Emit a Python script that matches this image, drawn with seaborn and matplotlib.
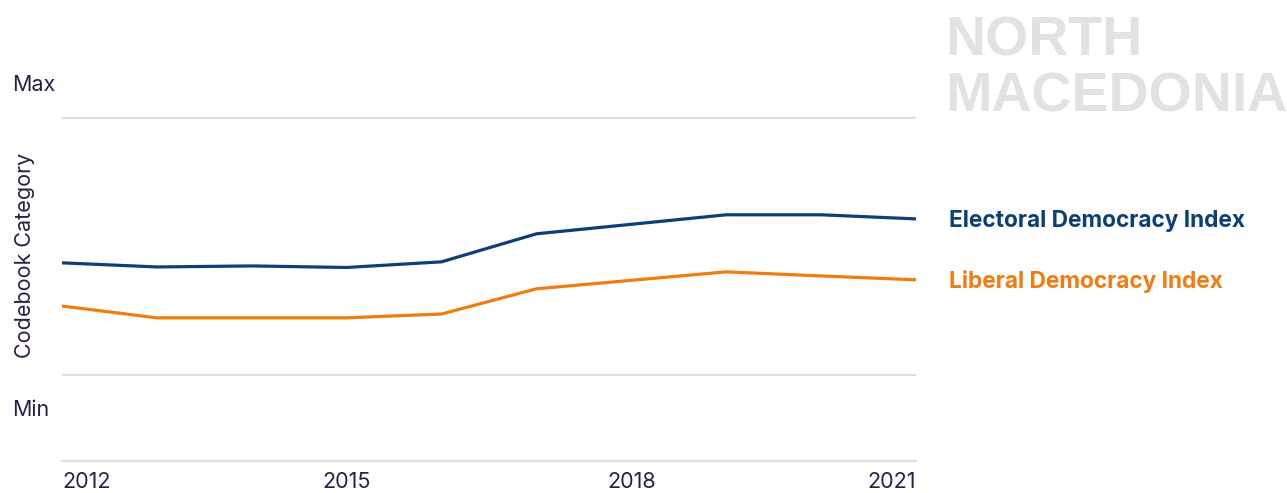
import pandas as pd
import matplotlib.pyplot as plt
import seaborn as sns

# --- Data (0 = Min, 1 = Max) ---
YEARS = [2012, 2013, 2014, 2015, 2016, 2017, 2018, 2019, 2020, 2021]
ELECTORAL = [0.436, 0.420, 0.424, 0.418, 0.440, 0.549, 0.586, 0.623, 0.623, 0.607]
LIBERAL = [0.268, 0.222, 0.222, 0.222, 0.237, 0.335, 0.368, 0.401, 0.385, 0.370]
SERIES = ['Electoral Democracy Index', 'Liberal Democracy Index']
COLORS = ['#0b3f78', '#f07c12']
X_TICKS = [2012, 2015, 2018, 2021]
COUNTRY = 'NORTH\nMACEDONIA'

TEXT_COLOR = '#24214a'
GRID_COLOR = '#dedede'
FS = 15.5

df = pd.DataFrame({
    'year': YEARS * 2,
    'value': ELECTORAL + LIBERAL,
    'index': [SERIES[0]] * len(YEARS) + [SERIES[1]] * len(YEARS),
})

sns.set_theme(style='white')
plt.rcParams['font.family'] = ['Inter', 'DejaVu Sans']

fig = plt.figure(figsize=(12.87, 4.93), dpi=100)
ax = fig.add_axes([62 / 1287, 1 - 461 / 493, 854 / 1287, 431 / 493])

sns.lineplot(data=df, x='year', y='value', hue='index', palette=COLORS,
             linewidth=2.3, legend=False, ax=ax)

ax.set_xlim(YEARS[0], YEARS[-1])
ax.set_ylim(-0.335, 1.342)

# grid only at Min / Max
for v in [0, 1]:
    ax.axhline(v, color=GRID_COLOR, lw=1.6, zorder=0)

for s in ['top', 'right', 'left']:
    ax.spines[s].set_visible(False)
ax.spines['bottom'].set_color(GRID_COLOR)
ax.spines['bottom'].set_linewidth(1.6)

ax.set_yticks([])
ax.set_xticks(X_TICKS)
ax.set_xticklabels([str(t) for t in X_TICKS], fontsize=FS, color=TEXT_COLOR)
ax.tick_params(axis='x', length=0, pad=8)
labels = ax.get_xticklabels()
labels[0].set_horizontalalignment('left')
labels[-1].set_horizontalalignment('right')
ax.set_xlabel('')
ax.set_ylabel('')

# Min / Max labels
ax.annotate('Max', xy=(0, 1), xycoords=('axes fraction', 'data'), xytext=(-36, 24),
            textcoords='offset points', fontsize=FS, color=TEXT_COLOR, va='center', ha='left')
ax.annotate('Min', xy=(0, 0), xycoords=('axes fraction', 'data'), xytext=(-36, -25),
            textcoords='offset points', fontsize=FS, color=TEXT_COLOR, va='center', ha='left')
fig.text(25 / 1287, 1 - 255 / 493, 'Codebook Category', rotation=90, fontsize=FS,
         color=TEXT_COLOR, ha='center', va='center')

# direct labels at line ends
for name, vals, col in zip(SERIES, [ELECTORAL, LIBERAL], COLORS):
    ax.annotate(name, xy=(YEARS[-1], vals[-1]), xytext=(24, -1.5), textcoords='offset points',
                fontsize=16.3, fontweight='bold', color=col, va='center', ha='left',
                annotation_clip=False)

# country title
fig.text(945 / 1287, 1 - 70 / 493, COUNTRY, fontsize=40, fontweight='bold', color='#e2e2e2',
         family='Liberation Sans', ha='left', va='center', linespacing=1.1)

fig.savefig('out.png', dpi=100)
